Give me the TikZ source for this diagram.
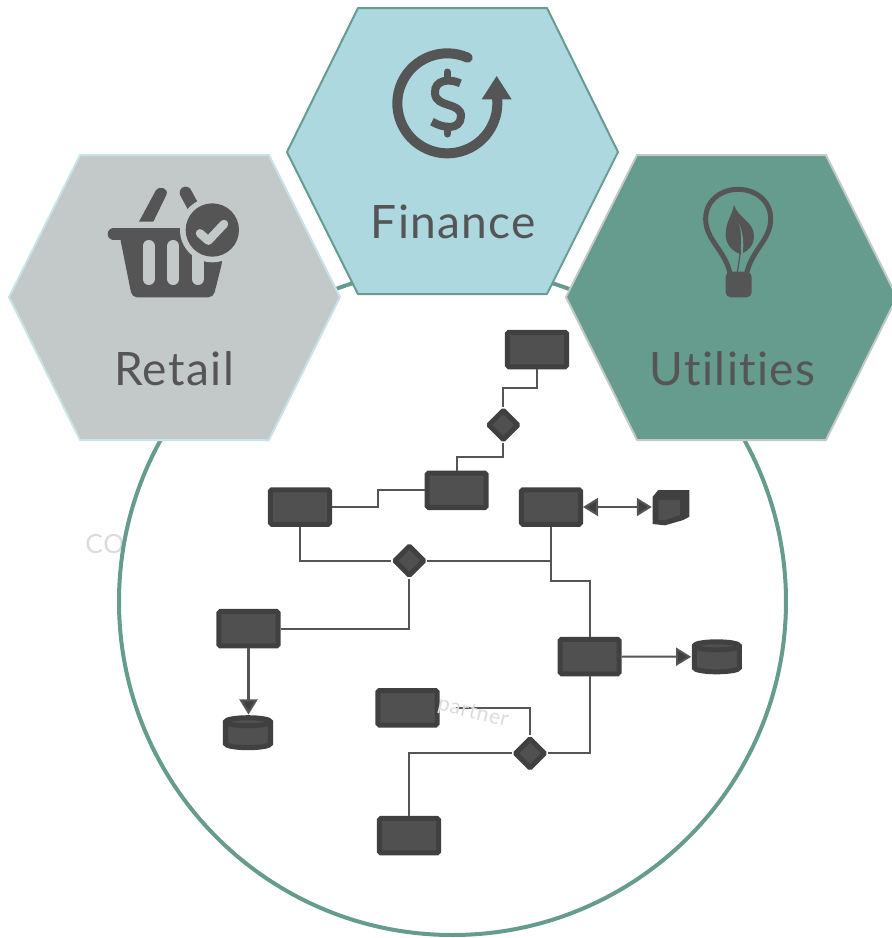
\documentclass[tikz,border=0pt]{standalone}
\usepackage{fontspec}
\setmainfont[Ligatures=NoCommon,LetterSpace=3]{Lato}
\usetikzlibrary{arrows.meta,shapes.geometric}
\definecolor{teal}{HTML}{669C8E}
\definecolor{sky}{HTML}{ADD8DF}
\definecolor{stone}{HTML}{C3C9C9}
\definecolor{pale}{HTML}{C9E3E8}
\definecolor{ink}{HTML}{555555}
\definecolor{boxfill}{HTML}{505050}
\definecolor{boxline}{HTML}{404040}
\tikzset{
	hexa/.style={line width=.02cm,line join=round},
	label/.style={anchor=base,text=ink,font=\fontsize{13.1}{15}\selectfont},
	flowbox/.style={rectangle,draw=boxline,fill=boxfill,line width=.05cm,rounded corners=.015cm,minimum width=.59cm,minimum height=.345cm,inner sep=0},
	gate/.style={diamond,draw=boxline,fill=boxfill,line width=.05cm,rounded corners=.01cm,minimum size=.31cm,inner sep=0},
	store/.style={inner sep=0,minimum width=.5cm,minimum height=.35cm},
	link/.style={draw=ink,line width=.02cm},
	tip/.style={-{Triangle[length=.15cm,width=.18cm,fill=boxline]}},
	both/.style={{Triangle[length=.15cm,width=.18cm,fill=boxline]}-{Triangle[length=.15cm,width=.18cm,fill=boxline]}},
	ghost/.style={text=black!14,font=\fontsize{6}{7}\selectfont}
}
\begin{document}
\begin{tikzpicture}[x=.01cm,y=-.01cm]
	\useasboundingbox (0,0) rectangle (892,938);
	\node[ghost,font=\fontsize{7.5}{8}\selectfont] (co) at (105,544) {CO};
	\draw[teal,line width=.04cm] (452.5,601.5) circle (333.5);
	% hexagons
	\filldraw[hexa,fill=stone,draw=pale] (80,155) -- (269,155) -- (340,297) -- (269,440) -- (80,440) -- (9,297) -- cycle;
	\filldraw[hexa,fill=sky,draw=teal] (358,8) -- (547,8) -- (618,152) -- (547,294) -- (358,294) -- (287,152) -- cycle;
	\filldraw[hexa,fill=teal,draw=stone] (637,155) -- (826,155) -- (897,297) -- (826,440) -- (637,440) -- (566,297) -- cycle;
	\node[label] (retail) at (174,385) {Retail};
	\node[label] (finance) at (453.5,238) {Finance};
	\node[label] (utilities) at (732.5,385) {Utilities};
	% dollar icon
	\begin{scope}[shift={(280,0)},scale=1/3]
		\draw[ink,line width=.1cm,line cap=round] (502,310) ++(-66:150) arc (-66:-366:150);
		\fill[ink] (650,228) -- (695,298) -- (605,298) -- cycle;
		\draw[ink,line width=.08cm] (541,250) .. controls (510,235) and (462,238) .. (465,280) .. controls (468,325) and (545,305) .. (543,350) .. controls (540,392) and (490,385) .. (456,365);
		\draw[ink,line width=.07cm,line cap=round] (502,216) -- (502,240) (502,378) -- (502,402);
	\end{scope}
	% basket icon
	\begin{scope}[shift={(0,150)},scale=1/3]
		\fill[ink] (417,215) -- (467,122) .. controls (478,105) and (508,115) .. (499,135) -- (460,215) -- cycle;
		\draw[ink,line width=.12cm,line cap=round] (557,128) -- (585,180);
		\draw[ink,line width=.12cm,line cap=round] (341,252) -- (600,252);
		\fill[ink,rounded corners=.05cm] (358,252) -- (396,442) -- (640,442) -- (667,335) -- (667,252) -- cycle;
		\draw[stone,line width=.12cm,line cap=round] (446,288) -- (446,387) (520,288) -- (520,387) (594,288) -- (594,387);
		\fill[stone] (637,240) circle (97);
		\fill[ink] (637,240) circle (80);
		\draw[stone,line width=.085cm,line cap=round,line join=round] (600,250) -- (625,272) -- (672,222);
	\end{scope}
	% bulb icon
	\begin{scope}[shift={(560,150)},scale=1/3]
		\draw[ink,line width=.05cm] (510,370) .. controls (495,300) and (437,270) .. (437,207) .. controls (437,150) and (485,118) .. (534,118) .. controls (585,118) and (632,150) .. (632,207) .. controls (632,270) and (575,300) .. (560,370);
		\fill[ink,rounded corners=.05cm] (497,365) -- (497,442) -- (575,442) -- (575,365) -- cycle;
		\fill[ink] (522,165) .. controls (515,200) and (497,215) .. (497,255) .. controls (497,285) and (520,305) .. (540,312) .. controls (565,305) and (582,285) .. (582,258) .. controls (582,215) and (535,205) .. (522,165) -- cycle;
		\fill[teal] (538,222) .. controls (550,250) and (552,285) .. (548,312) -- (540,312) .. controls (545,285) and (545,250) .. (538,222) -- cycle;
		\draw[ink,line width=.012cm] (542,300) -- (532,368);
	\end{scope}
	% flow
	\node[flowbox] (boxA) at (537,349.5) {};
	\node[flowbox] (boxB) at (456.7,490.3) {};
	\node[flowbox] (boxC) at (300,507) {};
	\node[flowbox] (boxD) at (551,507) {};
	\node[flowbox] (boxE) at (248.5,628.7) {};
	\node[flowbox] (boxF) at (589.6,656.5) {};
	\node[flowbox] (boxG) at (407.5,707.8) {};
	\node[flowbox] (boxH) at (409,835.7) {};
	\node[gate] (gateA) at (503.3,425) {};
	\node[gate] (gateB) at (409.3,560.7) {};
	\node[gate] (gateC) at (530,753.3) {};
	\node[store] (storeA) at (248,732.7) {};
	\node[store] (storeB) at (716.8,656.8) {};
	\foreach \x/\y in {248/732.7,716.8/656.8} {
		\filldraw[fill=boxfill,draw=boxline,line width=.05cm] (\x-22.5,\y-11) arc (-180:0:22.5 and 4) -- (\x+22.5,\y+11) arc (0:180:22.5 and 4) -- cycle;
		\draw[boxline,line width=.05cm] (\x-22.5,\y-11) arc (180:0:22.5 and 4);
	}
	% note
	\fill[boxline,line join=round] (652.7,496.7) -- (658.3,490) -- (689.3,490) -- (689.3,516.7) -- (683.3,520) -- (665,525.3) -- (652.7,524) -- cycle;
	\fill[boxfill] (658.3,500) -- (680,500) -- (680,515) -- (665,520) -- (658.3,520) -- cycle;
	\node[inner sep=0,minimum width=.37cm,minimum height=.36cm] (note) at (671,507) {};
	\draw[link] (boxA.south) -- ++(0,19.2) -| (gateA.north);
	\draw[link] (gateA.south) -- ++(0,14) -| (boxB.north);
	\draw[link] (boxC.east) -- ++(46.3,0) |- (boxB.west);
	\draw[link] (boxC.south) |- (gateB.west);
	\draw[link] (gateB.east) -- (gateB.east -| boxD.south);
	\draw[link] (boxD.south) -- ++(0,54.5) -| (boxF.north);
	\draw[link] (gateB.south) |- (boxE.east);
	\draw[link,tip] (boxE.south) -- (boxE.south |- storeA.north);
	\draw[link,both] (boxD.east) -- (note.west);
	\draw[link,tip] (boxF.east) -- (storeB.west);
	\draw[link] (boxF.south) |- (gateC.east);
	\draw[link,shorten <=.16cm] (boxG.east) -| (gateC.north);
	\draw[link] (gateC.west) -| (boxH.north);
	\node[ghost,inner sep=.5pt,rotate=-14] (partner) at (473,713) {partner};
\end{tikzpicture}
\end{document}
